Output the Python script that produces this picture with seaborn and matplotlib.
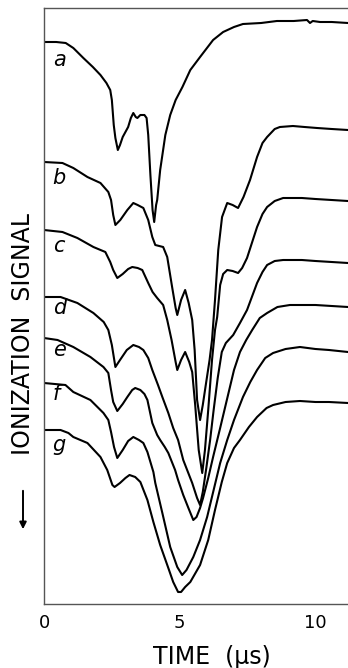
import pandas as pd
import seaborn as sns
import matplotlib.pyplot as plt

# time axis in microseconds, signal (arbitrary units, grows downwards)
t_a = [0, 0.45, 0.8, 1.08, 1.45, 1.8, 2.08, 2.3, 2.44, 2.5, 2.57, 2.63, 2.72, 2.8, 2.9, 3.1, 3.2, 3.29,
       3.38, 3.44, 3.55, 3.7, 3.78, 3.84, 3.92, 4.0, 4.06, 4.13, 4.17, 4.28, 4.47, 4.65, 4.85, 5.1, 5.39,
       5.75, 6.23, 6.6, 7.0, 7.33, 8.0, 8.58, 9.2, 9.69, 9.8, 9.9, 10.17, 10.6, 11.2]
s_a = [42, 42, 43, 48, 58, 67, 75, 83, 90, 100, 125, 138, 150, 145, 137, 127, 118, 113,
       117, 118, 115, 115, 118, 135, 175, 210, 222, 205, 200, 170, 135, 115, 100, 87, 70,
       57, 40, 32, 27, 24, 23, 21, 21, 20, 23, 21, 22, 22, 23]

t_b = [0, 0.68, 1.08, 1.6, 2.08, 2.37, 2.47, 2.55, 2.63, 2.81, 3.07, 3.29, 3.45, 3.66, 3.84, 3.99, 4.1,
       4.39, 4.54, 4.72, 4.85, 4.91, 5.05, 5.2, 5.33, 5.46, 5.55, 5.64, 5.75, 5.85, 5.96, 6.1, 6.19, 6.3,
       6.42, 6.56, 6.75, 6.95, 7.15, 7.35, 7.59, 7.85, 8.05, 8.22, 8.5, 8.69, 9.17, 9.6, 10.06, 10.6, 11.2]
s_b = [162, 163, 168, 177, 183, 192, 200, 215, 225, 220, 210, 203, 205, 208, 220, 237, 245,
       247, 257, 287, 308, 315, 300, 290, 303, 320, 350, 400, 420, 405, 385, 360, 340, 300,
       250, 217, 203, 205, 208, 197, 180, 157, 143, 137, 129, 127, 126, 127, 128, 129, 130]

t_c = [0, 0.68, 1.23, 1.82, 2.26, 2.44, 2.55, 2.7, 2.9, 3.1, 3.25, 3.45, 3.62, 3.84, 4.0, 4.17, 4.39,
       4.54, 4.7, 4.85, 4.91, 5.05, 5.2, 5.35, 5.46, 5.57, 5.7, 5.83, 5.93, 6.05, 6.19, 6.3, 6.38, 6.49,
       6.6, 6.75, 6.95, 7.15, 7.3, 7.48, 7.85, 8.05, 8.22, 8.5, 8.81, 9.5, 10.0, 11.2]
s_c = [230, 232, 238, 247, 252, 262, 270, 278, 274, 269, 267, 268, 270, 283, 292, 298, 305,
       320, 340, 362, 370, 360, 352, 362, 372, 405, 450, 473, 450, 410, 360, 330, 317, 285,
       274, 270, 271, 273, 268, 258, 227, 214, 207, 201, 198, 198, 199, 201]

t_d = [0, 0.61, 1.23, 1.82, 2.2, 2.37, 2.5, 2.63, 2.8, 3.05, 3.29, 3.5, 3.66, 3.84, 3.99, 4.2, 4.36,
       4.58, 4.76, 4.94, 5.13, 5.46, 5.64, 5.75, 5.85, 5.98, 6.12, 6.25, 6.4, 6.55, 6.7, 6.97, 7.22, 7.48,
       7.85, 8.05, 8.22, 8.5, 8.81, 9.5, 10.0, 11.2]
s_d = [297, 297, 303, 313, 322, 330, 345, 367, 360, 350, 345, 347, 350, 358, 370, 385, 397,
       413, 428, 440, 460, 483, 498, 505, 492, 468, 440, 410, 378, 352, 343, 335, 323, 310,
       283, 272, 265, 261, 260, 260, 261, 263]

t_e = [0, 0.5, 1.08, 1.71, 2.19, 2.37, 2.47, 2.55, 2.7, 2.9, 3.07, 3.25, 3.36, 3.55, 3.7, 3.81, 3.99,
       4.17, 4.28, 4.45, 4.58, 4.83, 4.94, 5.13, 5.32, 5.5, 5.62, 5.75, 5.86, 6.05, 6.23, 6.49, 6.78,
       7.0, 7.22, 7.45, 7.67, 7.95, 8.22, 8.6, 9.06, 9.6, 10.0, 10.6, 11.2]
s_e = [338, 340, 347, 357, 367, 373, 390, 402, 411, 404, 397, 390, 388, 390, 394, 400, 423,
       435, 440, 447, 453, 470, 480, 495, 508, 520, 517, 508, 498, 478, 457, 428, 395,
       370, 352, 340, 330, 318, 313, 307, 305, 305, 305, 306, 307]

t_f = [0, 0.79, 1.08, 1.71, 2.19, 2.37, 2.47, 2.58, 2.7, 2.9, 3.1, 3.29, 3.5, 3.66, 3.81, 3.92, 4.03,
       4.1, 4.36, 4.65, 4.91, 5.09, 5.25, 5.5, 5.75, 6.01, 6.25, 6.49, 6.75, 7.0, 7.33, 7.6, 7.85, 8.15,
       8.44, 8.9, 9.43, 10.0, 10.5, 11.2]
s_f = [383, 385, 392, 400, 413, 420, 432, 447, 458, 450, 441, 437, 440, 443, 452, 462, 472,
       483, 513, 547, 567, 575, 570, 557, 540, 517, 490, 463, 440, 420, 397, 382, 370, 358,
       353, 349, 347, 349, 350, 352]

t_g = [0, 0.61, 0.9, 1.08, 1.6, 2.08, 2.33, 2.52, 2.6, 2.8, 3.0, 3.15, 3.36, 3.55, 3.81, 4.03, 4.28,
       4.58, 4.76, 4.94, 5.05, 5.2, 5.39, 5.75, 6.05, 6.3, 6.55, 6.75, 7.0, 7.22, 7.55, 7.85, 8.2, 8.44,
       8.9, 9.43, 10.0, 10.5, 11.2]
s_g = [430, 430, 433, 437, 443, 457, 470, 485, 487, 483, 478, 475, 477, 482, 500, 522, 545,
       568, 582, 592, 592, 587, 582, 565, 540, 510, 482, 463, 448, 440, 427, 417, 408, 405,
       402, 401, 402, 402, 403]

trace_names = ['a', 'b', 'c', 'd', 'e', 'f', 'g']
trace_t = [t_a, t_b, t_c, t_d, t_e, t_f, t_g]
trace_s = [s_a, s_b, s_c, s_d, s_e, s_f, s_g]
# where the curve letters sit (time, signal)
label_t = [0.32, 0.32, 0.32, 0.32, 0.32, 0.32, 0.32]
label_s = [60, 178, 246, 308, 350, 394, 445]

xticks = [0, 5, 10]

frames = []
for name, t, s in zip(trace_names, trace_t, trace_s):
    frames.append(pd.DataFrame({'trace': name, 'time': t, 'signal': s}))
df = pd.concat(frames, ignore_index=True)

sns.set_style('white')
plt.rcParams['font.family'] = ['DejaVu Sans']
plt.rcParams['text.color'] = 'black'
plt.rcParams['axes.labelcolor'] = 'black'
plt.rcParams['xtick.color'] = 'black'

fig = plt.figure(figsize=(3.48, 6.68), dpi=100)
ax = fig.add_axes([44 / 348, 64 / 668, 304 / 348, 596 / 668])

sns.lineplot(data=df, x='time', y='signal', units='trace', estimator=None, sort=False,
             color='black', lw=1.5, ax=ax)

for name, lt, ls in zip(trace_names, label_t, label_s):
    ax.text(lt, ls, name, fontsize=15, fontstyle='italic', ha='left', va='center', color='black')

ax.set_xlim(0, 11.2)
ax.set_ylim(604, 8)
ax.set_xticks(xticks)
ax.set_xticklabels([str(x) for x in xticks], fontsize=13)
ax.set_yticks([])
ax.tick_params(axis='x', direction='in', length=8, width=1.1, pad=7, colors='black')
ax.tick_params(axis='y', length=0)
ax.spines['right'].set_visible(False)
for side in ['left', 'top', 'bottom']:
    ax.spines[side].set_color('#555555')
    ax.spines[side].set_linewidth(1.0)

ax.set_xlabel('TIME  (µs)', fontsize=17, color='black')
ax.xaxis.label.set_va('center')
ax.xaxis.set_label_coords((212 - 44) / 304, -(657 - 604) / 596)
ax.set_ylabel('')

fig.text(23 / 348, 0.5, 'IONIZATION  SIGNAL', rotation=90, fontsize=17, ha='center', va='center',
         color='black')
ax.annotate('', xy=(23 / 348, 1 - 532 / 668), xytext=(23 / 348, 1 - 488 / 668),
            xycoords='figure fraction', textcoords='figure fraction',
            arrowprops=dict(arrowstyle='-|>', color='black', lw=1.4, mutation_scale=10))

fig.savefig('out.png', dpi=100)
